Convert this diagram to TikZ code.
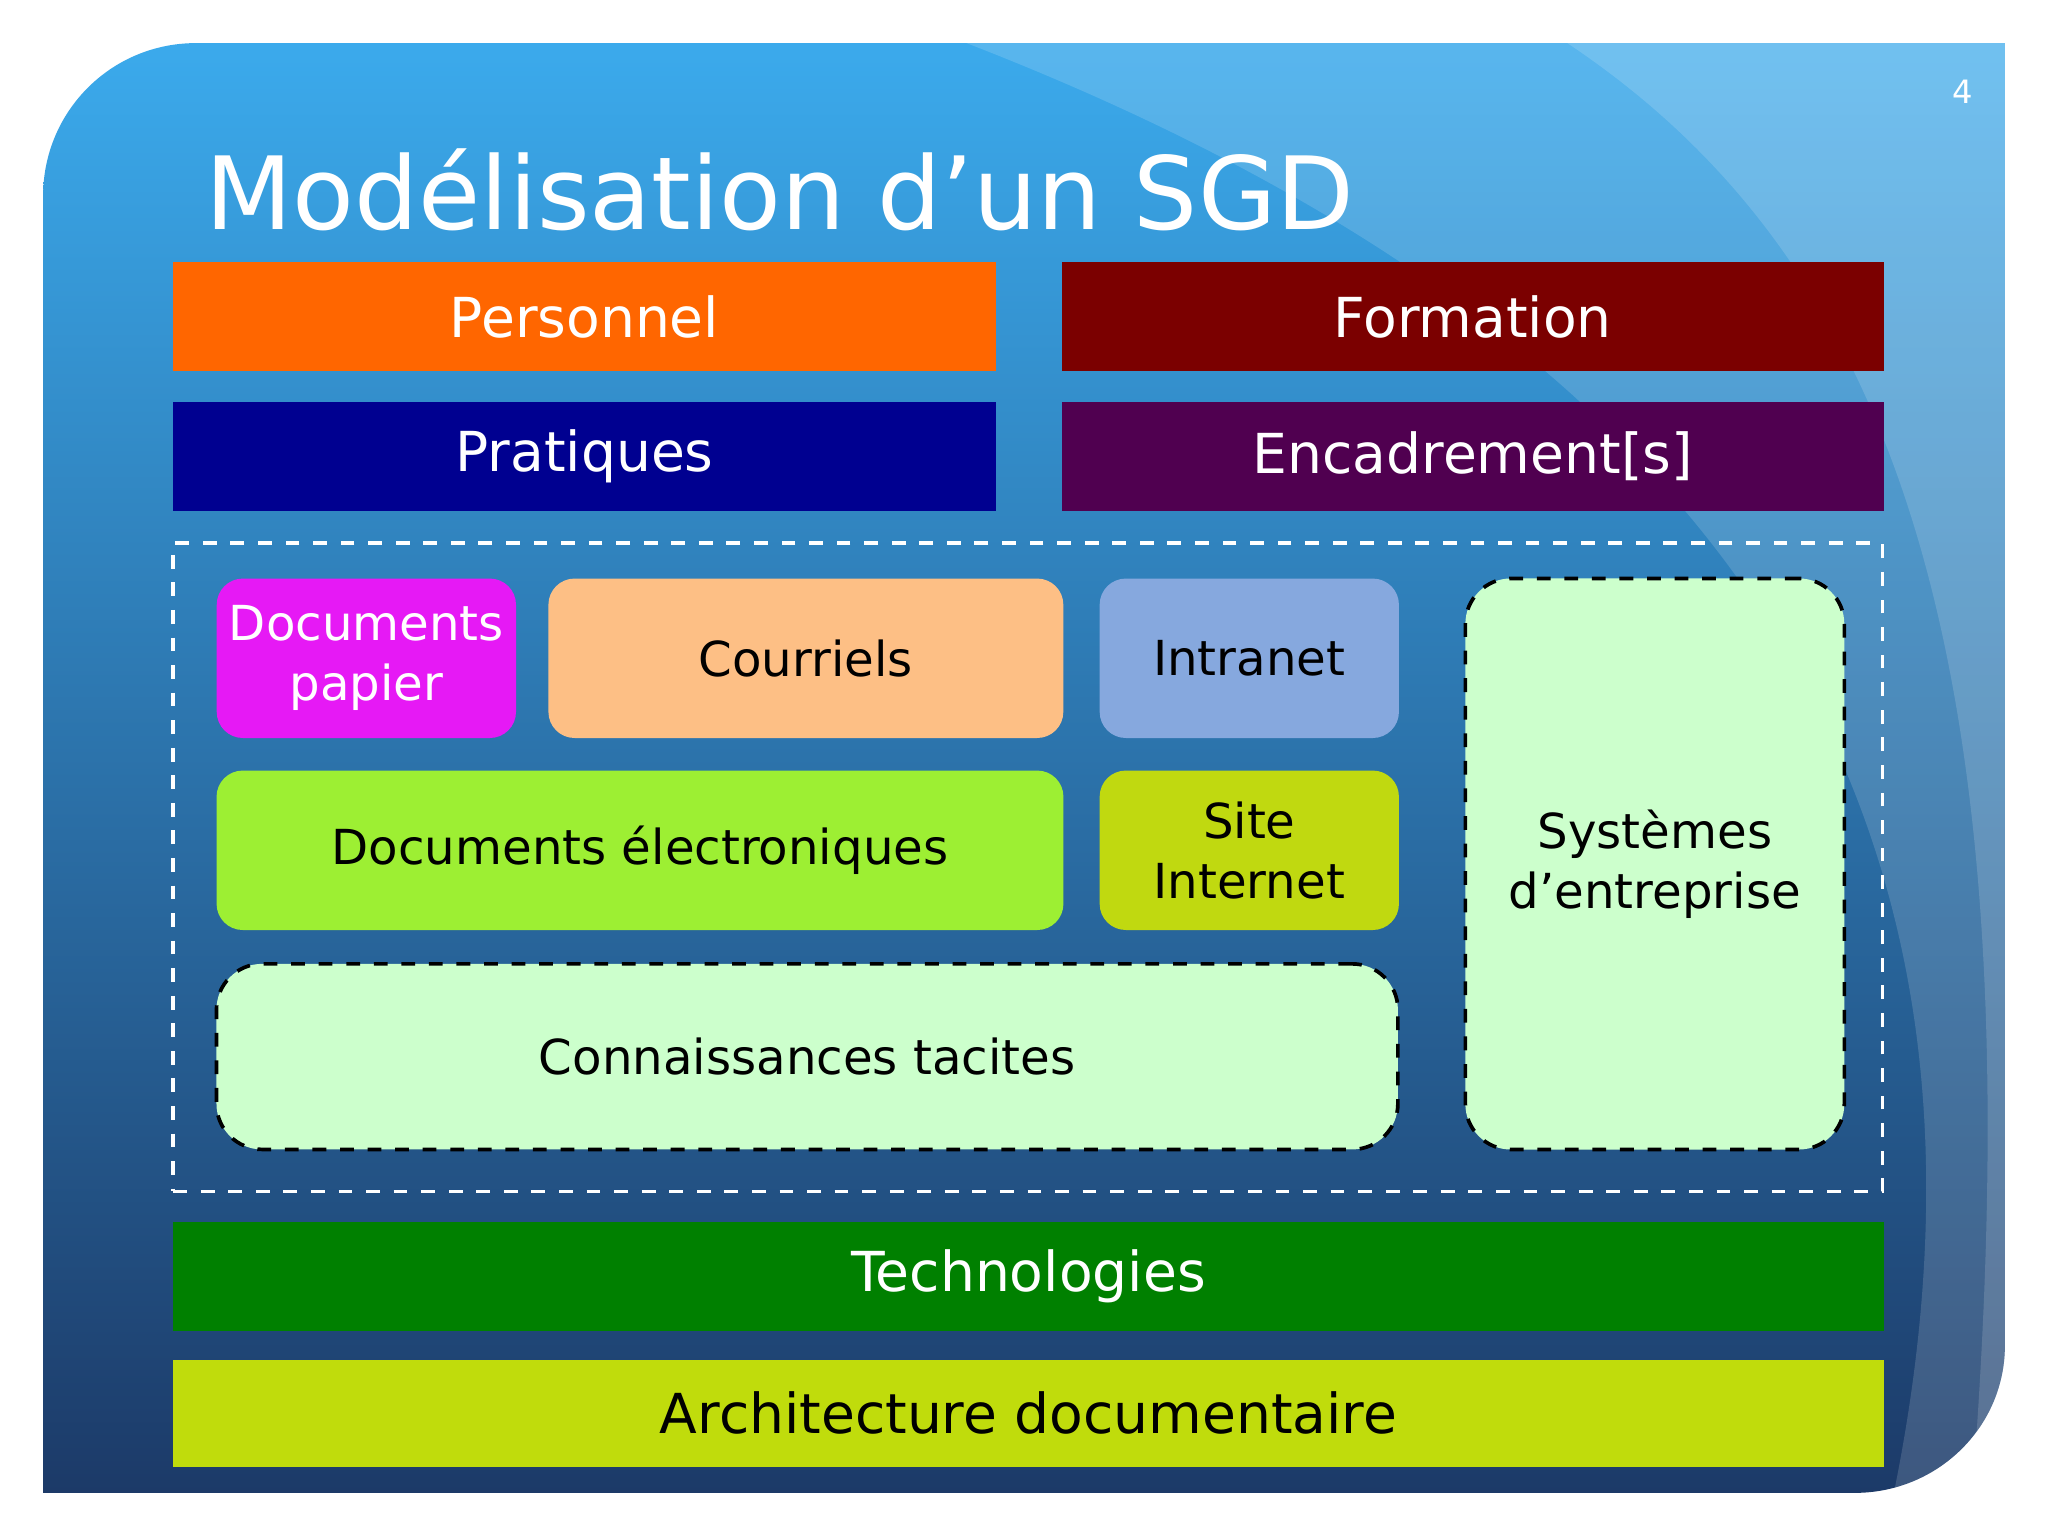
\documentclass[tikz,border=0pt]{standalone}
\usepackage{fontspec}
\setmainfont{DejaVu Sans}
\begin{document}
\begin{tikzpicture}[x=0.01cm,y=-0.01cm,
  bar/.style={draw=none, text=white, font=\fontsize{12}{14}\selectfont, inner sep=0pt},
  tile/.style={rounded corners=0.2cm, draw=none, font=\fontsize{10.5}{13}\selectfont, align=center, inner sep=0pt},
  tacit/.style={tile, fill=tacitgreen, draw=black, dashed, thick, rounded corners=0.35cm}]
\definecolor{tacitgreen}{HTML}{CCFFCC}
\definecolor{skytop}{HTML}{3BAAEC}
\definecolor{skybot}{HTML}{1C3A68}
\useasboundingbox (0,0) rectangle (1568,1176);
\fill[white] (0,0) rectangle (1568,1176);
% slide background
\shade[top color=skytop, bottom color=skybot]
  (33,1143) -- (33,150) to[out=90,in=180] (150,33) -- (1535,33) -- (1535,1030)
  to[out=-90,in=0] (1420,1143) -- cycle;
\begin{scope}
\clip (33,1143) -- (33,150) to[out=90,in=180] (150,33) -- (1535,33) -- (1535,1030)
  to[out=-90,in=0] (1420,1143) -- cycle;
\fill[white, opacity=0.15] (740,33) .. controls (1300,250) and (1560,600) .. (1450,1143) -- (1568,1176) -- (1568,0) -- cycle;
\fill[white, opacity=0.15] (1200,33) .. controls (1450,200) and (1560,500) .. (1510,1143) -- (1568,1176) -- (1568,0) -- cycle;
\end{scope}
\node[anchor=west, text=white, font=\fontsize{22}{26}\selectfont] (title) at (145,145) {Modélisation d’un SGD};
\node[text=white, font=\fontsize{7}{8}\selectfont] (num) at (1503,70) {4};
% bars
\node[bar, fill={rgb,255:red,255;green,102;blue,0}, minimum width=6.29cm, minimum height=0.83cm] (pers) at (447.5,242.5) {Personnel};
\node[bar, fill={rgb,255:red,123;green,0;blue,0}, minimum width=6.29cm, minimum height=0.83cm] (form) at (1127.5,242.5) {Formation};
\node[bar, fill={rgb,255:red,0;green,0;blue,144}, minimum width=6.29cm, minimum height=0.83cm] (prat) at (447.5,349.5) {Pratiques};
\node[bar, fill={rgb,255:red,80;green,0;blue,80}, minimum width=6.29cm, minimum height=0.83cm] (enc) at (1127.5,349.5) {Encadrement[s]};
% dashed frame
\node[draw=white, dashed, thick, minimum width=13.08cm, minimum height=4.96cm, inner sep=0pt] (frame) at (787,664) {};
% tiles
\node[tile, fill={rgb,255:red,230;green,25;blue,245}, text=white, minimum width=2.29cm, minimum height=1.22cm] (pap) at (280.5,504) {Documents\\papier};
\node[tile, fill={rgb,255:red,253;green,191;blue,133}, minimum width=3.94cm, minimum height=1.22cm] (cour) at (617,504) {Courriels};
\node[tile, fill={rgb,255:red,134;green,168;blue,222}, minimum width=2.29cm, minimum height=1.22cm] (intra) at (956.5,504) {Intranet};
\node[tile, fill={rgb,255:red,157;green,239;blue,51}, minimum width=6.48cm, minimum height=1.22cm] (elec) at (490,651) {Documents électroniques};
\node[tile, fill={rgb,255:red,192;green,217;blue,16}, minimum width=2.29cm, minimum height=1.22cm] (site) at (956.5,651) {Site\\Internet};
\node[tacit, minimum width=9.04cm, minimum height=1.42cm] (tac) at (618,809) {Connaissances tacites};
\node[tacit, minimum width=2.9cm, minimum height=4.37cm] (sys) at (1267,661.5) {Systèmes\\d’entreprise};
% bottom bars
\node[bar, fill={rgb,255:red,0;green,128;blue,0}, minimum width=13.09cm, minimum height=0.83cm] (tech) at (787.5,977.5) {Technologies};
\node[bar, text=black, fill={rgb,255:red,192;green,220;blue,12}, minimum width=13.09cm, minimum height=0.82cm] (arch) at (787.5,1082) {Architecture documentaire};
\end{tikzpicture}
\end{document}
